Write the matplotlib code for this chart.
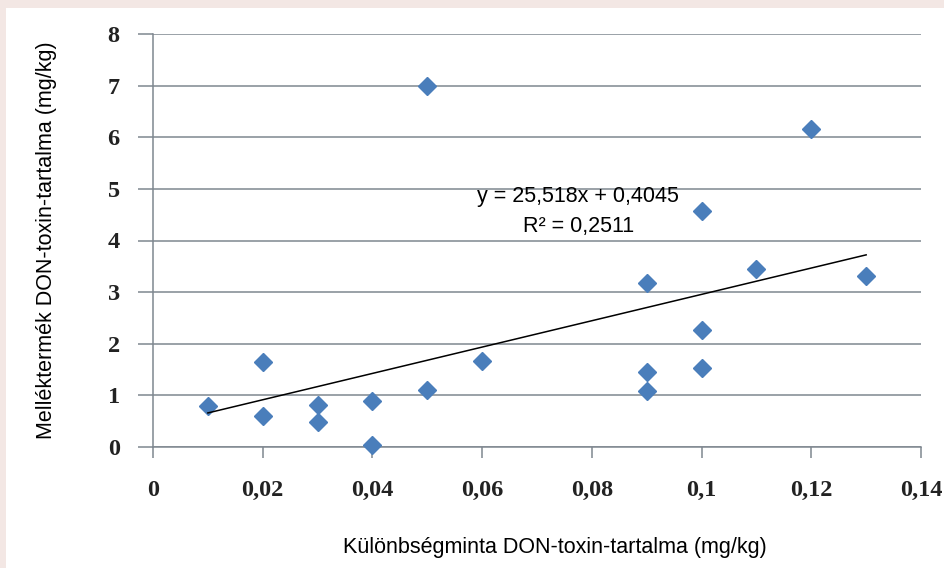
import numpy as np
import matplotlib.pyplot as plt
from matplotlib.patches import Rectangle

# Különbségminta vs melléktermék DON-toxin (mg/kg)
x_vals = [0.01, 0.02, 0.02, 0.03, 0.03, 0.04, 0.04, 0.05, 0.05, 0.06,
          0.09, 0.09, 0.09, 0.10, 0.10, 0.10, 0.11, 0.12, 0.13]
y_vals = [0.80, 1.65, 0.60, 0.81, 0.49, 0.89, 0.04, 1.10, 7.00, 1.66,
          3.17, 1.46, 1.09, 4.58, 2.27, 1.53, 3.44, 6.16, 3.32]

slope = 25.518
intercept = 0.4045
r2 = 0.2511

xticks = [0, 0.02, 0.04, 0.06, 0.08, 0.1, 0.12, 0.14]
xtick_labels = ["0", "0,02", "0,04", "0,06", "0,08", "0,1", "0,12", "0,14"]
yticks = [0, 1, 2, 3, 4, 5, 6, 7, 8]

fig = plt.figure(figsize=(9.45, 5.68), dpi=100)
fig.patch.set_facecolor("#f3e7e4")
# white inner panel
fig.patches.append(Rectangle((6 / 945, 0), 1, 1 - 8 / 568, transform=fig.transFigure,
                             facecolor="white", edgecolor="none", zorder=-5))

ax = fig.add_axes([153 / 945, 1 - 447 / 568, 768 / 945, 413 / 568])
ax.set_facecolor("none")

grid_col = "#7f8790"
for y in yticks:
    ax.axhline(y, color=grid_col, lw=1.1, zorder=1)

ax.plot(x_vals, y_vals, "D", color="#4a7ebb", ms=9.5, mec="#4a7ebb", zorder=3, clip_on=False)

fx = np.array([min(x_vals), max(x_vals)])
ax.plot(fx, slope * fx + intercept, color="black", lw=1.1, zorder=4)

ax.text(0.0775, 4.86, "y = 25,518x + 0,4045", ha="center", va="center",
        fontsize=15.5, family="Liberation Sans", zorder=5)
ax.text(0.0775, 4.28, "R² = " + f"{r2}".replace(".", ","), ha="center", va="center",
        fontsize=15.5, family="Liberation Sans", zorder=5)

ax.set_xlim(0, 0.14)
ax.set_ylim(0, 8)
ax.set_xticks(xticks)
ax.set_xticklabels(xtick_labels)
ax.set_yticks(yticks)

for s in ["top", "right"]:
    ax.spines[s].set_visible(False)
ax.spines["left"].set_color(grid_col)
ax.spines["bottom"].set_color(grid_col)
ax.spines["left"].set_linewidth(1.1)
ax.spines["bottom"].set_linewidth(1.1)

ax.tick_params(axis="both", colors=grid_col, width=1.1, direction="out")
ax.tick_params(axis="x", length=8, pad=16)
ax.tick_params(axis="y", length=11, pad=13)
for lbl in ax.get_xticklabels() + ax.get_yticklabels():
    lbl.set_family("Liberation Serif")
    lbl.set_fontweight("bold")
    lbl.set_fontsize(17.5)
    lbl.set_color("#222222")

fig.text(555 / 945, 1 - 548 / 568, "Különbségminta DON-toxin-tartalma (mg/kg)",
         ha="center", va="center", fontsize=15.5, family="Liberation Sans")
fig.text(47 / 945, 1 - 240 / 568, "Melléktermék DON-toxin-tartalma (mg/kg)",
         ha="center", va="center", rotation=90, fontsize=15.5, family="Liberation Sans")

fig.savefig("out.png", dpi=100, facecolor=fig.get_facecolor())
